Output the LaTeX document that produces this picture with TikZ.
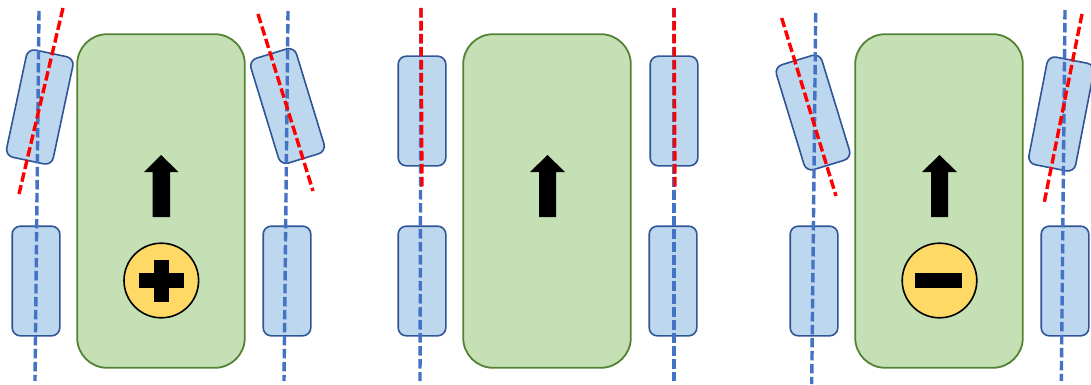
\documentclass[tikz,border=0pt]{standalone}
\definecolor{wheelfill}{HTML}{BDD7EE}
\definecolor{wheeledge}{HTML}{2F5597}
\definecolor{bodyfill}{HTML}{C5E0B4}
\definecolor{bodyedge}{HTML}{548235}
\definecolor{axisblue}{HTML}{4472C4}
\definecolor{axisred}{HTML}{FF0000}
\definecolor{hubfill}{HTML}{FFD966}
\tikzset{
  wheel/.style={draw=wheeledge,fill=wheelfill,line width=1.6pt,rounded corners=8pt,
    minimum width=47.6pt,minimum height=109.6pt,inner sep=0pt,outer sep=0pt},
  chassis/.style={draw=bodyedge,fill=bodyfill,line width=1.8pt,rounded corners=30pt,
    minimum width=167.6pt,minimum height=333.6pt,inner sep=0pt,outer sep=0pt},
  hub/.style={circle,draw=black,fill=hubfill,line width=1.6pt,minimum size=74.6pt,inner sep=0pt,outer sep=0pt},
  blueaxis/.style={draw=axisblue,line width=3.4pt,dash pattern=on 9.5pt off 3.5pt},
  redaxis/.style={draw=axisred,line width=3.4pt,dash pattern=on 9.5pt off 3.5pt},
  pointer/.style={fill=black,draw=none},
  mark bar/.style={fill=black,draw=none}
}
\begin{document}
\begin{tikzpicture}[x=1pt,y=-1pt]
\useasboundingbox (0,0) rectangle (1091,385);

% Vehicle turning with positive steering
\node[chassis] (bodyA) at (161,201) {};
\node[wheel,rotate=-12] (flA) at (39.8,107) {};
\node[wheel,rotate=17] (frA) at (287.5,106) {};
\node[wheel] (rlA) at (36,281) {};
\node[wheel] (rrA) at (287,281) {};
\coordinate (b1a) at (39,11);  \coordinate (b1b) at (35,381);
\coordinate (b2a) at (288,11); \coordinate (b2b) at (284,381);
\coordinate (r1a) at (63,8);   \coordinate (r1b) at (19,194);
\coordinate (r2a) at (258,14); \coordinate (r2b) at (313,191);
\draw[blueaxis] (b1a) -- (b1b);
\draw[blueaxis] (b2a) -- (b2b);
\draw[redaxis] (r1a) -- (r1b);
\draw[redaxis] (r2a) -- (r2b);
\fill[pointer] (161,155) -- (178.5,172) -- (170,172) -- (170,217) -- (152.5,217) -- (152.5,172) -- (144,172) -- cycle;
\node[hub] (hubA) at (161.3,280.5) {};
\fill[mark bar] (139,273.3) rectangle (184,287.8);
\fill[mark bar] (154.3,260) rectangle (168.5,302);

% Vehicle driving straight
\node[chassis] (bodyB) at (547,201) {};
\node[wheel] (flB) at (422,111) {};
\node[wheel] (frB) at (674,111) {};
\node[wheel] (rlB) at (422,281) {};
\node[wheel] (rrB) at (673,281) {};
\coordinate (b3a) at (421,8);  \coordinate (b3b) at (420,381);
\coordinate (b4a) at (674,8);  \coordinate (b4b) at (674,381);
\coordinate (r3a) at (421,8);  \coordinate (r3b) at (422,190);
\coordinate (r4a) at (674,8);  \coordinate (r4b) at (675,190);
\draw[blueaxis] (b3a) -- (b3b);
\draw[blueaxis] (b4a) -- (b4b);
\draw[redaxis] (r3a) -- (r3b);
\draw[redaxis] (r4a) -- (r4b);
\fill[pointer] (547.5,155) -- (565,172) -- (556,172) -- (556,217) -- (539,217) -- (539,172) -- (530,172) -- cycle;

% Vehicle turning with negative steering
\node[chassis] (bodyC) at (939,201) {};
\node[wheel,rotate=17] (flC) at (813,112.5) {};
\node[wheel,rotate=-11] (frC) at (1061.3,114) {};
\node[wheel] (rlC) at (814,281) {};
\node[wheel] (rrC) at (1065,281) {};
\coordinate (b5a) at (815.7,13);  \coordinate (b5b) at (811.7,384);
\coordinate (b6a) at (1065,10);   \coordinate (b6b) at (1061.3,381);
\coordinate (r5a) at (781.7,18);  \coordinate (r5b) at (836,196);
\coordinate (r6a) at (1082,14);   \coordinate (r6b) at (1044.3,202);
\draw[blueaxis] (b5a) -- (b5b);
\draw[blueaxis] (b6a) -- (b6b);
\draw[redaxis] (r5a) -- (r5b);
\draw[redaxis] (r6a) -- (r6b);
\fill[pointer] (939.5,155) -- (957,172) -- (948,172) -- (948,217) -- (931,217) -- (931,172) -- (922,172) -- cycle;
\node[hub] (hubC) at (939.5,280.5) {};
\fill[mark bar] (915,273.3) rectangle (962.3,287.8);
\end{tikzpicture}
\end{document}
